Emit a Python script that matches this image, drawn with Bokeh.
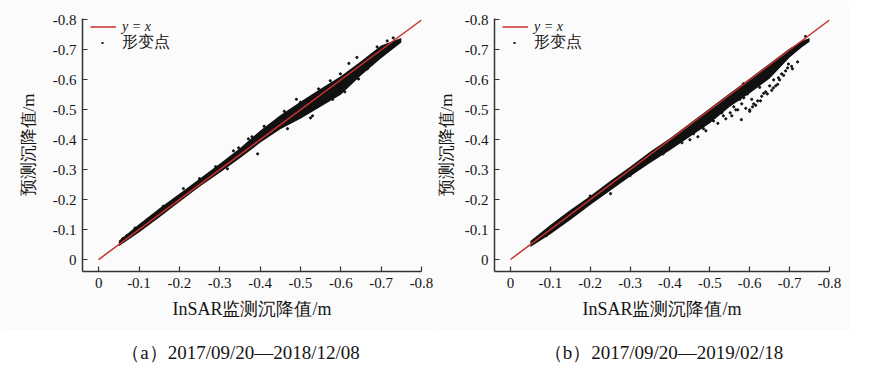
from bokeh.plotting import figure
from bokeh.layouts import row, column
from bokeh.models import Range1d, FixedTicker, Legend, LegendItem
from bokeh.core.properties import value
from bokeh.embed import file_html
from bokeh.resources import INLINE

# ---- data ----
TICKS = [0, -0.1, -0.2, -0.3, -0.4, -0.5, -0.6, -0.7, -0.8]
TICK_LABELS = ["0", "-0.1", "-0.2", "-0.3", "-0.4", "-0.5", "-0.6", "-0.7", "-0.8"]
LINE_X = [0, -0.8]
LINE_Y = [0, -0.8]

# panel (a) dense band of deformation points
A_BAND_X = [-0.05, -0.1, -0.15, -0.2, -0.25, -0.3, -0.35, -0.4, -0.45, -0.5, -0.55, -0.6, -0.65, -0.7, -0.75]
A_BAND_UP = [-0.063, -0.118, -0.17, -0.22, -0.27, -0.32, -0.372, -0.43, -0.482, -0.527, -0.57, -0.612, -0.662, -0.715, -0.74]
A_BAND_LO = [-0.044, -0.09, -0.14, -0.192, -0.243, -0.29, -0.338, -0.39, -0.435, -0.47, -0.51, -0.55, -0.615, -0.672, -0.725]
# panel (a) scattered points
A_PTS_X = [-0.06, -0.07, -0.09, -0.12, -0.16, -0.21, -0.25, -0.29, -0.319, -0.334, -0.347, -0.371, -0.394,
           -0.418, -0.443, -0.468, -0.475, -0.5, -0.525, -0.525, -0.545, -0.562, -0.574, -0.599, -0.62,
           -0.644, -0.666, -0.69, -0.715, -0.73, -0.38, -0.41, -0.46, -0.49, -0.53, -0.58, -0.61, -0.64]
A_PTS_Y = [-0.07, -0.08, -0.105, -0.132, -0.178, -0.237, -0.27, -0.31, -0.303, -0.363, -0.373, -0.403, -0.353,
           -0.437, -0.457, -0.437, -0.49, -0.525, -0.53, -0.473, -0.57, -0.557, -0.597, -0.62, -0.655,
           -0.603, -0.637, -0.71, -0.73, -0.74, -0.41, -0.445, -0.495, -0.535, -0.48, -0.535, -0.56, -0.675]

# panel (b) dense band of deformation points
B_BAND_X = [-0.05, -0.1, -0.15, -0.2, -0.25, -0.3, -0.35, -0.4, -0.45, -0.5, -0.55, -0.6, -0.65, -0.7, -0.73, -0.75]
B_BAND_UP = [-0.062, -0.115, -0.165, -0.212, -0.262, -0.31, -0.36, -0.405, -0.455, -0.505, -0.555, -0.605, -0.655, -0.705, -0.73, -0.74]
B_BAND_LO = [-0.042, -0.084, -0.132, -0.182, -0.23, -0.277, -0.322, -0.365, -0.41, -0.455, -0.51, -0.555, -0.605, -0.675, -0.708, -0.727]
# panel (b) scattered points
B_PTS_X = [-0.06, -0.09, -0.13, -0.2, -0.251, -0.3, -0.343, -0.383, -0.41, -0.434, -0.459, -0.484, -0.509,
           -0.534, -0.551, -0.57, -0.579, -0.584, -0.594, -0.607, -0.61, -0.627, -0.644, -0.659, -0.672,
           -0.697, -0.707, -0.72, -0.74,
           -0.58, -0.59, -0.6, -0.615, -0.62, -0.63, -0.64, -0.655, -0.665, -0.675, -0.68, -0.69, -0.705,
           -0.6, -0.565, -0.555, -0.54, -0.52, -0.49, -0.47, -0.45, -0.43, -0.575, -0.625, -0.66, -0.685,
           -0.585, -0.605, -0.635, -0.65, -0.67, -0.695, -0.56, -0.53]
B_PTS_Y = [-0.065, -0.08, -0.12, -0.212, -0.22, -0.28, -0.33, -0.353, -0.39, -0.403, -0.42, -0.437, -0.463,
           -0.48, -0.49, -0.5, -0.467, -0.587, -0.553, -0.51, -0.52, -0.53, -0.553, -0.573, -0.607,
           -0.653, -0.637, -0.66, -0.745,
           -0.52, -0.505, -0.5, -0.515, -0.53, -0.545, -0.56, -0.565, -0.58, -0.6, -0.62, -0.63, -0.645,
           -0.495, -0.5, -0.48, -0.47, -0.455, -0.43, -0.41, -0.4, -0.39, -0.535, -0.575, -0.6, -0.615,
           -0.54, -0.535, -0.555, -0.58, -0.585, -0.64, -0.51, -0.49]

CAPTION_A = "（a）2017/09/20—2018/12/08"
CAPTION_B = "（b）2017/09/20—2019/02/18"
X_LABEL = "InSAR监测沉降值/m"
Y_LABEL = "预测沉降值/m"
LEG_LINE = "y = x"
LEG_PTS = "形变点"

FONT = "Liberation Serif"
RED = "#c8322d"
AXC = "#333333"
TXT = "#151515"
BG = "#fbfbfb"


def make_panel(bx, bup, blo, px, py, width, bl, br, ylab_standoff):
    p = figure(width=width, height=330, output_backend="svg", toolbar_location=None,
               x_range=Range1d(0.04, -0.8), y_range=Range1d(0.04, -0.805),
               min_border_left=bl, min_border_right=br, min_border_top=18, min_border_bottom=59)
    p.grid.visible = False
    p.outline_line_color = None
    p.background_fill_color = BG
    p.border_fill_color = BG

    for ax in (p.xaxis[0], p.yaxis[0]):
        ax.ticker = FixedTicker(ticks=TICKS)
        ax.major_label_overrides = dict(zip(TICKS, TICK_LABELS))
        ax.minor_tick_line_color = None
        ax.major_tick_in = 5
        ax.major_tick_out = 0
        ax.axis_line_color = AXC
        ax.axis_line_width = 1.5
        ax.major_tick_line_color = AXC
        ax.major_tick_line_width = 1.2
        ax.major_label_text_font = FONT
        ax.major_label_text_font_size = "15px"
        ax.major_label_text_color = TXT
        ax.major_label_standoff = 6
        ax.axis_label_text_font = FONT
        ax.axis_label_text_font_style = "normal"
        ax.axis_label_text_color = TXT
    p.xaxis.axis_label = X_LABEL
    p.yaxis.axis_label = Y_LABEL
    p.xaxis.axis_label_text_font_size = "18px"
    p.yaxis.axis_label_text_font_size = "17px"
    p.xaxis.axis_label_standoff = 8
    p.yaxis.axis_label_standoff = ylab_standoff

    p.varea(x=bx, y1=bup, y2=blo, fill_color="#111111")
    p.scatter(x=px, y=py, size=2.2, color="#111111")
    ln = p.line(x=LINE_X, y=LINE_Y, line_color=RED, line_width=1.5)
    # legend-only renderer: a single small dot drawn via a dashed line
    dot = p.line(x=[float("nan")], y=[float("nan")], line_color="#111111", line_width=2.2,
                 line_dash="0 11 2 20", line_cap="butt")

    common = dict(padding=0, margin=0, border_line_color=None, background_fill_alpha=0,
                  glyph_width=26, glyph_height=17, label_height=17, label_standoff=6,
                  label_text_font=FONT, label_text_color=TXT, spacing=0)
    leg1 = Legend(items=[LegendItem(label=LEG_LINE, renderers=[ln])], location=(8, 236),
                  label_text_font_style="italic", label_text_font_size="14px", **common)
    leg2 = Legend(items=[LegendItem(label=LEG_PTS, renderers=[dot])], location=(8, 218),
                  label_text_font_size="16px", **common)
    p.add_layout(leg1)
    p.add_layout(leg2)
    return p


def make_caption(text, width, cx):
    c = figure(width=width, height=40, output_backend="svg", toolbar_location=None,
               x_range=Range1d(0, width), y_range=Range1d(0, 40),
               min_border=0, min_border_left=0, min_border_right=0, min_border_top=0, min_border_bottom=0)
    c.axis.visible = False
    c.grid.visible = False
    c.outline_line_color = None
    c.text(x=[cx], y=[18], text=[text], text_align="center", text_baseline="middle",
           text_font=value(FONT), text_font_size="19px", text_color=TXT)
    return c


WA, WB = 433, 416
pa = make_panel(A_BAND_X, A_BAND_UP, A_BAND_LO, A_PTS_X, A_PTS_Y, WA, 82, 12, 12)
pb = make_panel(B_BAND_X, B_BAND_UP, B_BAND_LO, B_PTS_X, B_PTS_Y, WB, 61, 20, 6)
ca = make_caption(CAPTION_A, WA, 240)
cb = make_caption(CAPTION_B, WB, 230)

layout = column(row(pa, pb), row(ca, cb))
open("out.html", "w").write(file_html(layout, INLINE))
